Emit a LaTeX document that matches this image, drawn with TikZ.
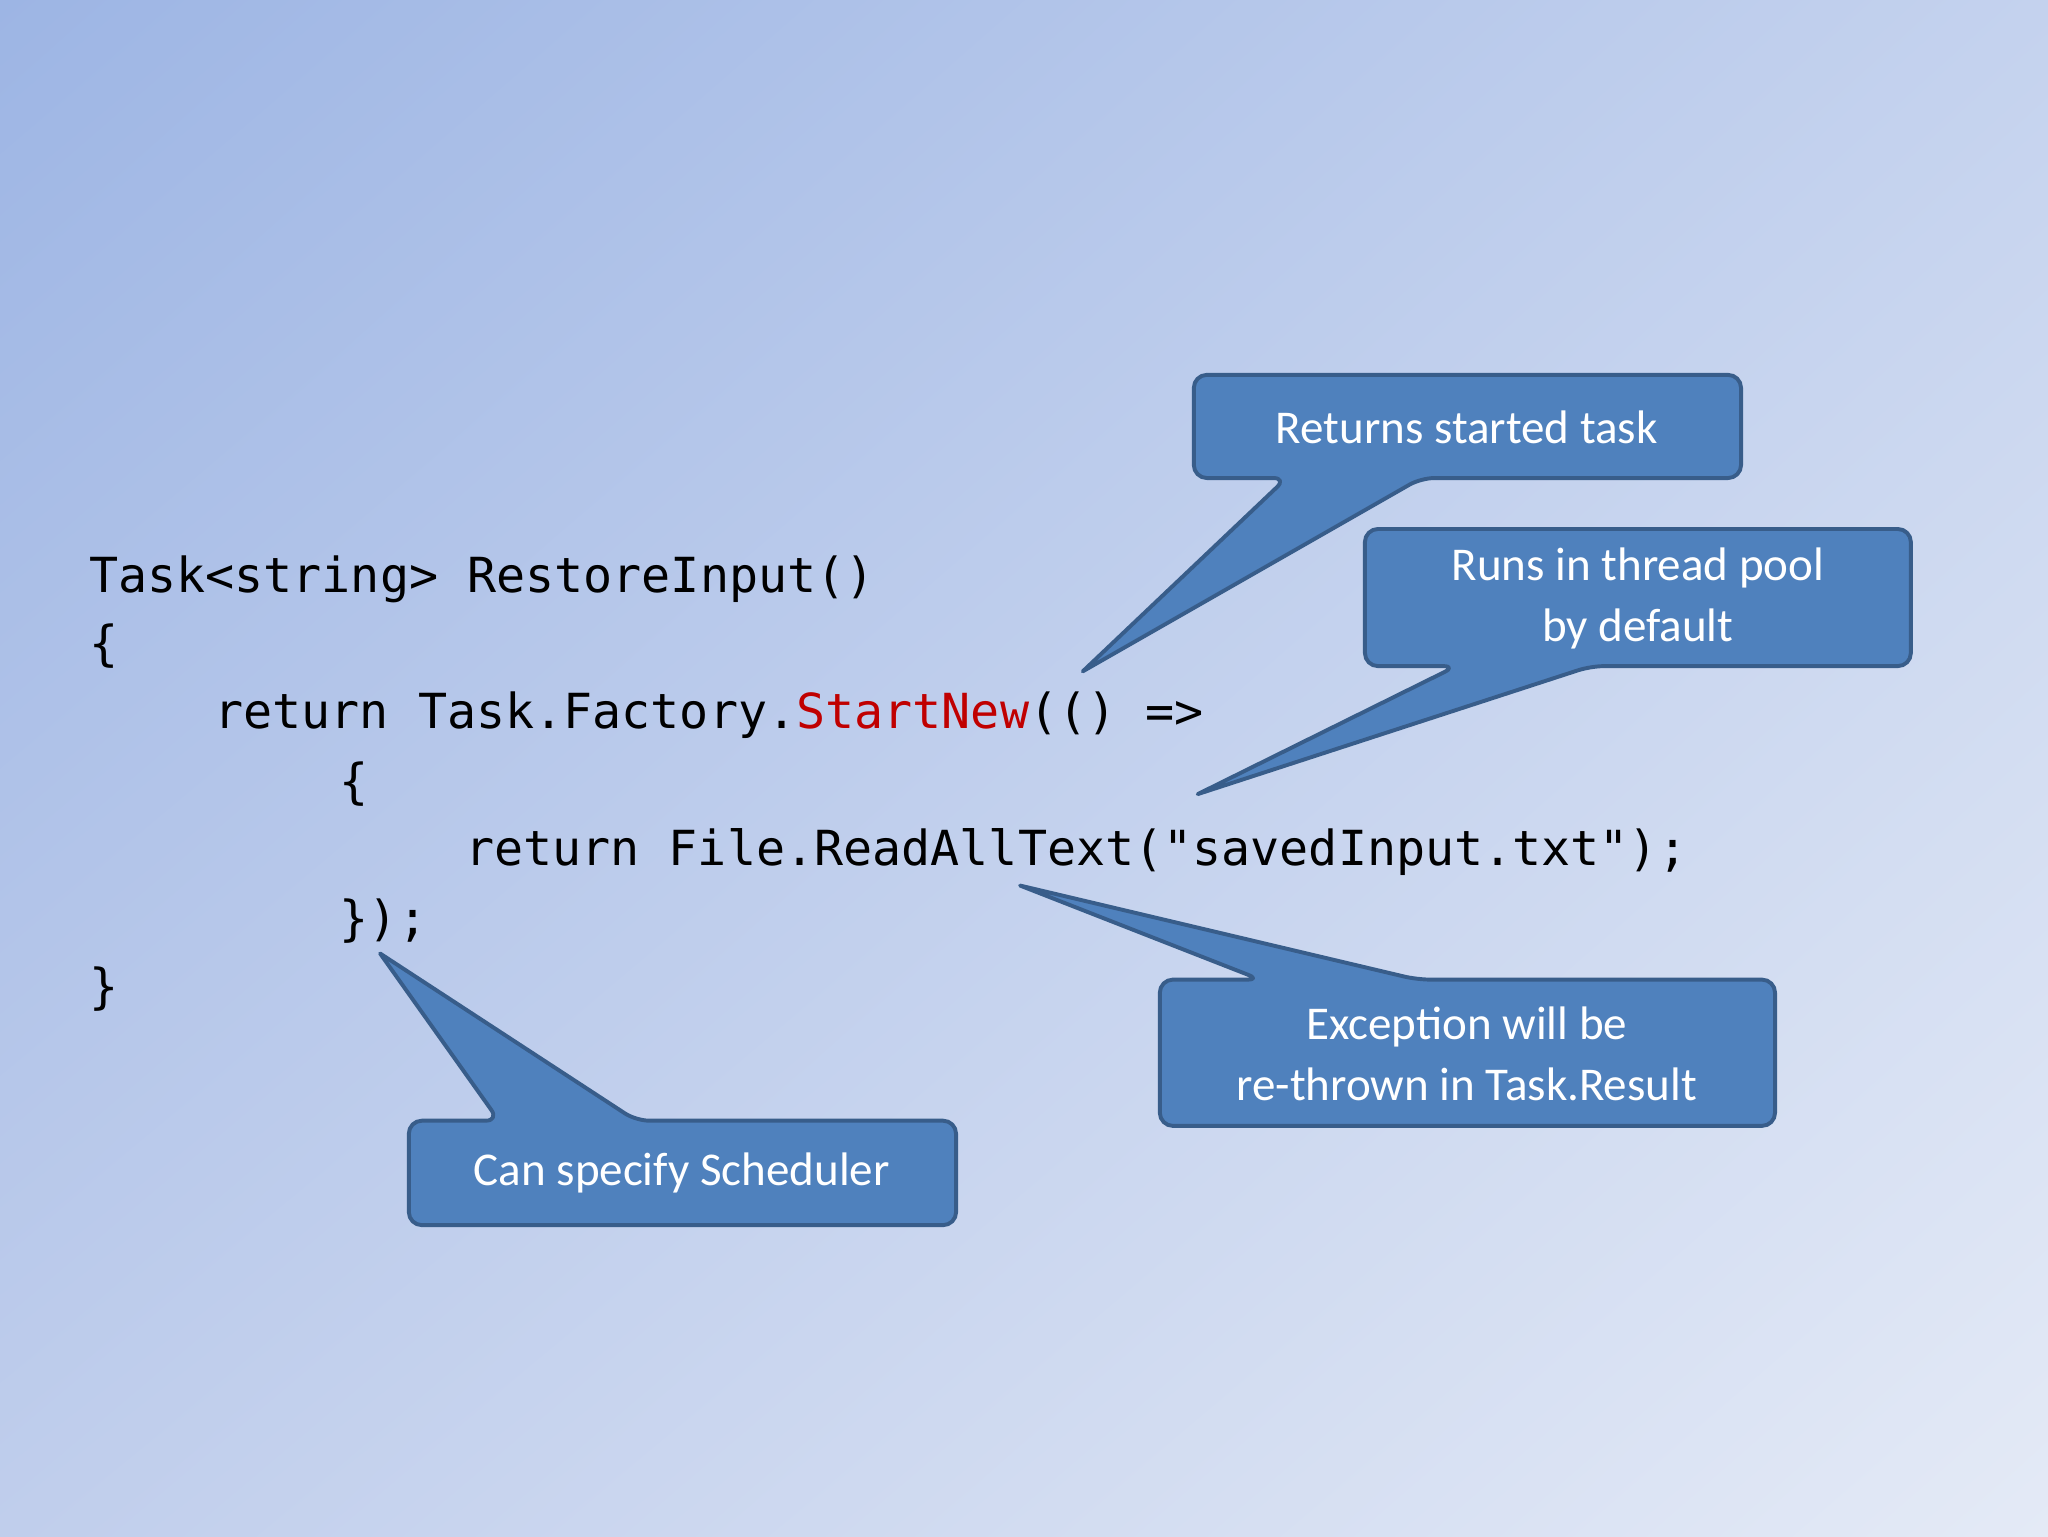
\documentclass[tikz,border=0pt]{standalone}
\usepackage{fontspec}
\usetikzlibrary{shadings}
\setmainfont{Carlito}
\newfontfamily\codefont{DejaVu Sans Mono}
\begin{document}
\begin{tikzpicture}[x=1pt,y=-1pt,
  callout/.style={fill=calfill,draw=caldraw,line width=3pt,line join=round},
  ctext/.style={text=white,font=\fontsize{36}{47}\selectfont,align=center},
  code/.style={anchor=base west,inner sep=0,font=\codefont\fontsize{37}{44}\selectfont}]
\definecolor{calfill}{HTML}{4F81BD}
\definecolor{caldraw}{HTML}{385D8A}
\definecolor{kw}{HTML}{C00000}
\definecolor{bgul}{RGB}{157,181,228}
\definecolor{bgur}{RGB}{196,210,238}
\definecolor{bgll}{RGB}{192,206,236}
\definecolor{bglr}{RGB}{228,234,246}
\useasboundingbox (0,0) rectangle (1568,1176);
\shade[upper left=bgul,upper right=bgur,lower left=bgll,lower right=bglr]
 (0,0) rectangle (1568,1176);
% code
\node[code] (l1) at (68,454) {Task<string> RestoreInput()};
\node[code] (l2) at (68,506) {\{};
\node[code] (l3) at (164,558) {return Task.Factory.\textcolor{kw}{StartNew}(() =>};
\node[code] (l4) at (260,611) {\{};
\node[code] (l5) at (356,663) {return File.ReadAllText("savedInput.txt");};
\node[code] (l6) at (260,716) {\});};
\node[code] (l7) at (68,768) {\}};
% callouts
\draw[callout,rounded corners=10] (914,287) -- (1333,287) -- (1333,366) -- (1088,366)
  [sharp corners] -- (829,514) [rounded corners=10] -- (985,366) -- (914,366) -- cycle;
\node[ctext] (c1) at (1123,327) {Returns started task};
\draw[callout,rounded corners=10] (1045,405) -- (1463,405) -- (1463,510) -- (1218,510)
  [sharp corners] -- (917,608) [rounded corners=10] -- (1115,510) -- (1045,510) -- cycle;
\node[ctext] (c2) at (1254,458) {Runs in thread pool\\by default};
\draw[callout,rounded corners=10] (888,750) -- (965,750) [sharp corners] -- (781,678)
  [rounded corners=10] -- (1085,750) -- (1359,750) -- (1359,862) -- (888,862) -- cycle;
\node[ctext] (c3) at (1123,807) {Exception will be\\re-thrown in Task.Result};
\draw[callout,rounded corners=10] (313,858) -- (382,858) [sharp corners] -- (291,730)
  [rounded corners=10] -- (487,858) -- (732,858) -- (732,938) -- (313,938) -- cycle;
\node[ctext] (c4) at (522,898) {Can specify Scheduler};
\end{tikzpicture}
\end{document}
